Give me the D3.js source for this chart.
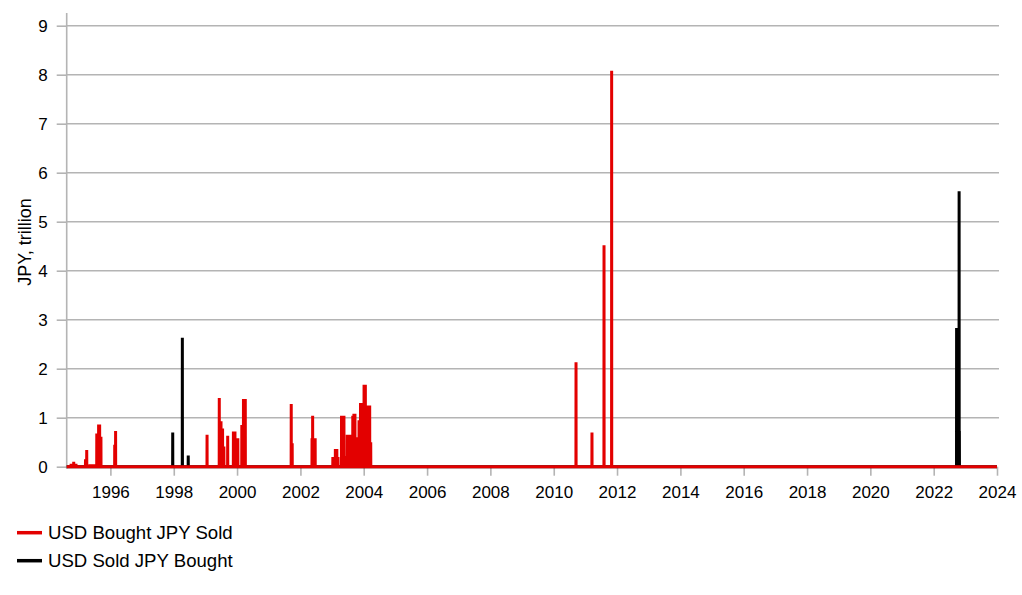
<!DOCTYPE html>
<html>
<head>
<meta charset="utf-8">
<script src="https://cdn.jsdelivr.net/npm/d3@7"></script>
<style>
  html, body { margin: 0; padding: 0; background: #fff; }
  svg { display: block; font-family: "Liberation Sans", Arial, sans-serif; }
</style>
</head>
<body>
<svg id="chart" width="1022" height="595"></svg>
<script>
// ---- Data (JPY trillion) ----
const domainStart = "1994-08-15";
const domainEnd = "2024-01-01";

const boughtDates = [
  "1994-10-05","1994-11-04","1994-11-30",
  "1995-03-20","1995-04-03","1995-05-10","1995-06-10","1995-07-05",
  "1995-07-28","1995-08-08","1995-08-18","1995-08-30","1995-09-14",
  "1996-02-20","1996-03-01",
  "1999-01-20",
  "1999-06-10","1999-06-30","1999-07-18","1999-08-02",
  "1999-09-15",
  "1999-11-20","1999-12-08","1999-12-24","2000-01-10",
  "2000-02-25","2000-03-15","2000-04-05",
  "2001-09-17","2001-09-28",
  "2002-05-15","2002-05-22","2002-06-05","2002-06-20",
  "2003-01-10","2003-01-25","2003-02-08","2003-02-25","2003-03-10",
  "2003-04-20","2003-05-05","2003-05-18","2003-06-01","2003-06-25","2003-07-12","2003-07-25",
  "2003-08-05","2003-08-28","2003-09-10","2003-09-22","2003-10-12","2003-10-25","2003-11-08",
  "2003-11-25","2003-12-12","2004-01-05","2004-01-20","2004-02-05",
  "2004-02-22","2004-03-10","2004-03-22",
  "2010-09-15",
  "2011-03-18",
  "2011-08-04",
  "2011-10-31"
];
const boughtValues = [
  0.06, 0.10, 0.06,
  0.15, 0.34, 0.05, 0.05, 0.05,
  0.68, 0.68, 0.86, 0.86, 0.61,
  0.45, 0.73,
  0.65,
  1.40, 0.93, 0.78, 0.41,
  0.63,
  0.72, 0.72, 0.58, 0.58,
  0.85, 1.38, 1.38,
  1.28, 0.48,
  0.58, 1.04, 0.58, 0.58,
  0.20, 0.20, 0.36, 0.36, 0.20,
  1.04, 1.04, 1.04, 0.22, 0.65, 0.65, 0.65,
  0.30, 1.04, 1.08, 1.08, 0.60, 0.60, 0.95,
  1.30, 1.30, 1.67, 1.67, 0.92,
  1.25, 1.25, 0.50,
  2.13,
  0.70,
  4.52,
  8.08
];

const soldDates = ["1997-12-20","1998-04-10","1998-06-17","2022-09-22","2022-10-21","2022-10-24"];
const soldValues = [0.70, 2.63, 0.23, 2.83, 5.62, 0.73];

const yTicks = [0,1,2,3,4,5,6,7,8,9];
const xTickYears = [1996,1998,2000,2002,2004,2006,2008,2010,2012,2014,2016,2018,2020,2022,2024];

const seriesNames = ["USD Bought JPY Sold", "USD Sold JPY Bought"];
const seriesColors = ["#e30000", "#000000"];

// ---- Build daily series: zero on days without intervention ----
const parse = d3.timeParse("%Y-%m-%d");
const DAY = 24 * 3600 * 1000;
function buildSeries(dates, values) {
  const pts = [{ date: parse(domainStart), v: 0 }];
  dates.forEach((s, i) => {
    const d = parse(s);
    pts.push({ date: new Date(d.getTime() - DAY), v: 0 });
    pts.push({ date: d, v: values[i] });
    pts.push({ date: new Date(d.getTime() + DAY), v: 0 });
  });
  pts.push({ date: parse(domainEnd), v: 0 });
  pts.sort((a, b) => a.date - b.date);
  return pts;
}
const boughtSeries = buildSeries(boughtDates, boughtValues);
const soldSeries = buildSeries(soldDates, soldValues);

// ---- Layout ----
const svg = d3.select("#chart");
const mLeft = 66.7, mRight = 997, mTop = 25.7, mBottom = 466.7;

const x = d3.scaleTime().domain([parse(domainStart), parse(domainEnd)]).range([mLeft, mRight]);
const y = d3.scaleLinear().domain([0, 9]).range([mBottom, mTop]);

const gridColor = "#b4b4b4";

// gridlines
svg.append("g")
  .selectAll("line")
  .data(yTicks.filter(t => t > 0))
  .join("line")
  .attr("x1", mLeft).attr("x2", mRight + 2)
  .attr("y1", d => y(d)).attr("y2", d => y(d))
  .attr("stroke", gridColor).attr("stroke-width", 1.6);

// y axis
const yAxis = d3.axisLeft(y).tickValues(yTicks).tickSize(10).tickPadding(9).tickFormat(d3.format("d"));
const gy = svg.append("g").attr("transform", `translate(${mLeft},0)`).call(yAxis);
gy.select(".domain").remove();
gy.selectAll(".tick line").attr("stroke", gridColor).attr("stroke-width", 1.6);
gy.selectAll(".tick text").attr("font-size", 17).attr("fill", "#000")
  .attr("font-family", "Liberation Sans, Arial, sans-serif");
svg.append("line")
  .attr("x1", mLeft).attr("x2", mLeft).attr("y1", 13).attr("y2", mBottom + 2)
  .attr("stroke", gridColor).attr("stroke-width", 1.6);

// x axis
const xAxis = d3.axisBottom(x)
  .tickValues(xTickYears.map(yr => new Date(yr, 0, 1)))
  .tickFormat(d3.timeFormat("%Y"))
  .tickSize(9).tickPadding(10);
const gx = svg.append("g").attr("transform", `translate(0,${mBottom})`).call(xAxis);
gx.select(".domain").attr("stroke", gridColor).attr("stroke-width", 1.6)
  .attr("d", `M${mLeft},0H${mRight}`);
gx.selectAll(".tick line").attr("stroke", gridColor).attr("stroke-width", 1.6);
gx.selectAll(".tick text").attr("font-size", 17).attr("fill", "#000")
  .attr("font-family", "Liberation Sans, Arial, sans-serif");

// y title
svg.append("text")
  .attr("transform", `translate(31,242) rotate(-90)`)
  .attr("text-anchor", "middle")
  .attr("font-size", 18)
  .attr("fill", "#000")
  .text("JPY, trillion");

// lines
const line = d3.line().x(d => x(d.date)).y(d => y(d.v));
svg.append("path").datum(soldSeries)
  .attr("d", line).attr("fill", "none")
  .attr("stroke", seriesColors[1]).attr("stroke-width", 3);
svg.append("path").datum(boughtSeries)
  .attr("d", line).attr("fill", "none")
  .attr("stroke", seriesColors[0]).attr("stroke-width", 3);

// legend
const lg = svg.append("g").selectAll("g").data(seriesNames).join("g")
  .attr("transform", (d, i) => `translate(17,${532.7 + i * 28})`);
lg.append("line").attr("x1", 0).attr("x2", 25).attr("y1", 0).attr("y2", 0)
  .attr("stroke", (d, i) => seriesColors[i]).attr("stroke-width", 3.5);
lg.append("text").attr("x", 31).attr("y", 0).attr("dy", "0.35em")
  .attr("font-size", 18.6).attr("fill", "#000").text(d => d);
</script>
</body>
</html>
